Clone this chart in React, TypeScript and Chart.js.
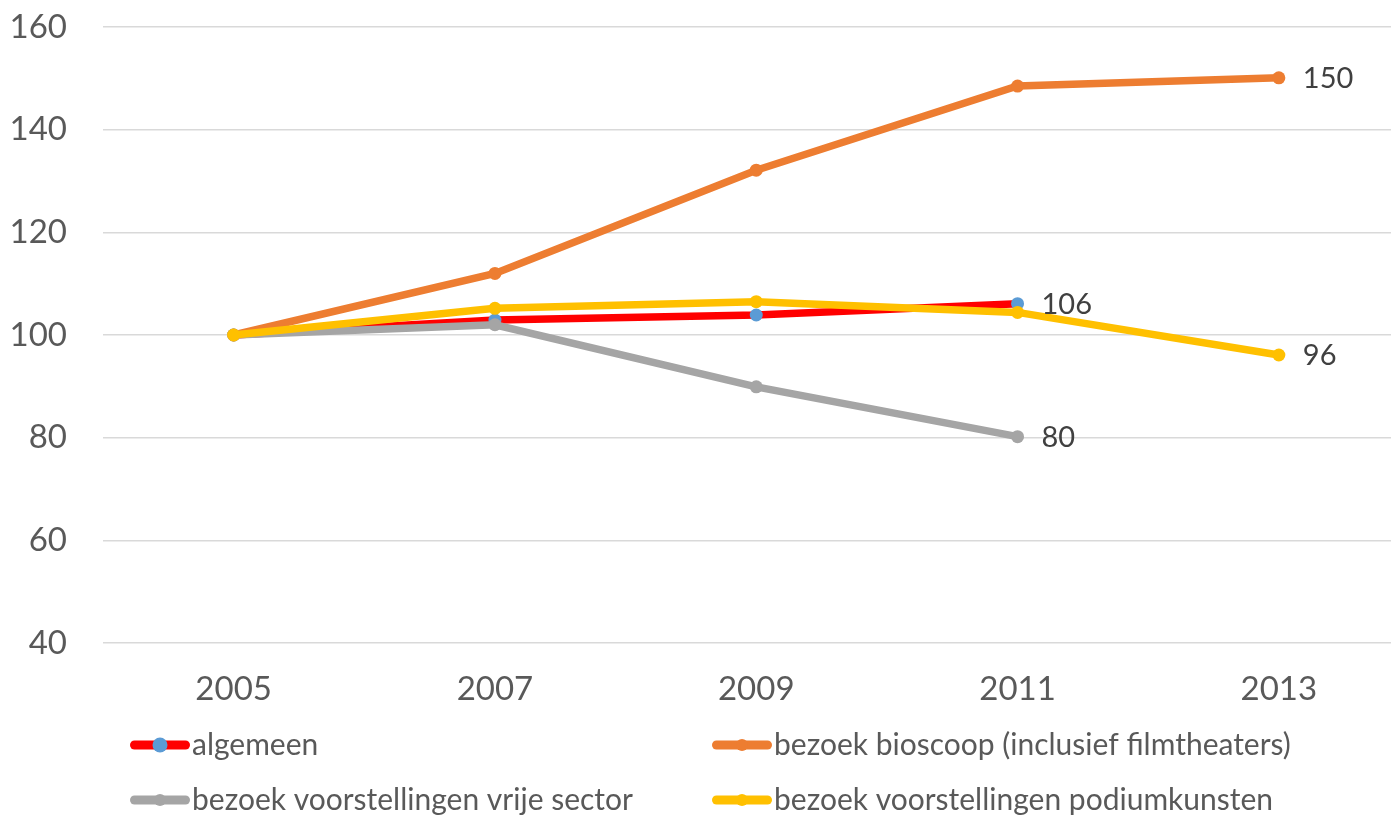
import React, { useEffect, useRef } from "react";
import { Chart, registerables } from "chart.js";

Chart.register(...registerables);

const years = ["2005", "2007", "2009", "2011", "2013"];
const algemeen = [100, 102.9, 103.9, 106.1, null];
const bioscoop = [100, 112.0, 132.1, 148.5, 150.1];
const vrijeSector = [100, 102.0, 89.9, 80.2, null];
const podiumkunsten = [100, 105.2, 106.5, 104.4, 96.1];
const seriesLabels = [
  "algemeen",
  "bezoek bioscoop (inclusief filmtheaters)",
  "bezoek voorstellingen vrije sector",
  "bezoek voorstellingen podiumkunsten",
];
const yMin = 40;
const yMax = 160;
const yStep = 20;

const FONT = "Lato, 'Open Sans', sans-serif";

const lastLabelPlugin = {
  id: "lastLabel",
  afterDatasetsDraw(chart: any) {
    const ctx = chart.ctx;
    ctx.save();
    ctx.font = `29px ${FONT}`;
    ctx.fillStyle = "#404040";
    ctx.textAlign = "left";
    ctx.textBaseline = "middle";
    chart.data.datasets.forEach((ds: any, i: number) => {
      const meta = chart.getDatasetMeta(i);
      let idx = -1;
      ds.data.forEach((v: any, j: number) => {
        if (v !== null && v !== undefined) idx = j;
      });
      if (idx < 0) return;
      const pt = meta.data[idx];
      ctx.fillText(String(Math.round(ds.data[idx])), pt.x + 24, pt.y + 1);
    });
    ctx.restore();
  },
};

const legendPlugin = {
  id: "customLegend",
  afterDraw(chart: any) {
    const ctx = chart.ctx;
    const colX = [130, 712];
    const rowY = [745, 800];
    ctx.save();
    chart.data.datasets.forEach((ds: any, i: number) => {
      const col = i % 2;
      const row = Math.floor(i / 2);
      const x0 = colX[col];
      const y = rowY[row];
      const w = 60;
      ctx.strokeStyle = ds.borderColor;
      ctx.lineWidth = 9;
      ctx.lineCap = "round";
      ctx.beginPath();
      ctx.moveTo(x0 + 4.5, y);
      ctx.lineTo(x0 + w - 4.5, y);
      ctx.stroke();
      ctx.fillStyle = ds.pointBackgroundColor;
      ctx.beginPath();
      ctx.arc(x0 + w / 2, y, i === 0 ? 7.5 : 6, 0, Math.PI * 2);
      ctx.fill();
      ctx.font = `30px ${FONT}`;
      ctx.fillStyle = "#595959";
      ctx.textAlign = "left";
      ctx.textBaseline = "middle";
      ctx.fillText(ds.label, x0 + w + 2, y);
    });
    ctx.restore();
  },
};

export default function App() {
  const ref = useRef<HTMLCanvasElement | null>(null);

  useEffect(() => {
    if (!ref.current) return;
    const mk = (label: string, data: any[], line: string, point: string, order: number) => ({
      label,
      data,
      borderColor: line,
      backgroundColor: line,
      pointBackgroundColor: point,
      pointBorderColor: point,
      pointRadius: 6.5,
      pointBorderWidth: 0,
      borderWidth: 7.5,
      tension: 0,
      spanGaps: false,
      order,
    });
    const chart = new Chart(ref.current, {
      type: "line",
      data: {
        labels: years,
        datasets: [
          mk(seriesLabels[0], algemeen, "#FF0000", "#5B9BD5", 4),
          mk(seriesLabels[1], bioscoop, "#ED7D31", "#ED7D31", 3),
          mk(seriesLabels[2], vrijeSector, "#A5A5A5", "#A5A5A5", 2),
          mk(seriesLabels[3], podiumkunsten, "#FFC000", "#FFC000", 1),
        ],
      },
      options: {
        responsive: false,
        animation: false,
        devicePixelRatio: 1,
        layout: { padding: { top: 27, left: 0, right: 0, bottom: 103 } },
        plugins: {
          legend: { display: false },
          tooltip: { enabled: false },
        },
        scales: {
          x: {
            offset: true,
            grid: { display: false, drawTicks: false },
            border: { display: false },
            ticks: {
              color: "#595959",
              font: { family: FONT, size: 33 },
              padding: 27,
            },
            afterFit: (scale: any) => {
              scale.height = 70;
              scale.paddingLeft = 0;
              scale.paddingRight = 0;
            },
          },
          y: {
            min: yMin,
            max: yMax,
            grid: { color: "#D9D9D9", lineWidth: 1.5, drawTicks: false },
            border: { display: false },
            ticks: {
              stepSize: yStep,
              color: "#595959",
              font: { family: FONT, size: 33 },
              padding: 36,
            },
            afterFit: (scale: any) => {
              scale.width = 103;
              scale.paddingTop = 0;
              scale.paddingBottom = 0;
            },
          },
        },
      },
      plugins: [lastLabelPlugin, legendPlugin],
    });
    return () => chart.destroy();
  }, []);

  return (
    <div
      style={{
        position: "fixed",
        left: 0,
        top: 0,
        width: 1391,
        height: 816,
        overflow: "hidden",
        background: "#fff",
      }}
    >
      <canvas ref={ref} width={1416} height={816} style={{ width: 1416, height: 816, display: "block" }} />
    </div>
  );
}
